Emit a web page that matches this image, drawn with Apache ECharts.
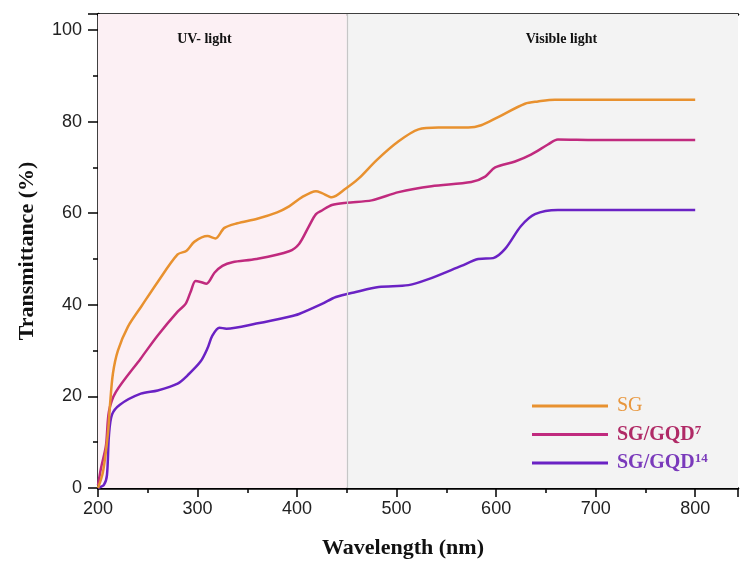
<!DOCTYPE html>
<html>
<head>
<meta charset="utf-8">
<script src="https://cdn.jsdelivr.net/npm/echarts@6/dist/echarts.min.js"></script>
<style>html,body{margin:0;padding:0;background:#fff}#c{width:741px;height:564px}</style>
</head>
<body>
<div id="c"></div>
<script>
// Wavelength (nm) / transmittance (%) pairs
const sgX = [200,205,210,212,215,220,230,244,260,280,289,297,310,318,327,340,360,380,392,405,419,425,435,449,462,480,502,522,542,572,585,602,629,642,659,700,750,800];
const sgY = [0,3.5,12,18,25,30,35.2,39.8,45,51,51.8,53.8,55,54.5,56.8,57.8,58.8,60.2,61.5,63.5,64.8,64.4,63.5,65.4,67.6,71.6,75.7,78.3,78.7,78.7,79.2,81,83.9,84.4,84.8,84.8,84.8,84.8];

const gqd7X = [200,203,208,211,218,243,260,280,288,293,298,303,309,317,325,335,359,392,402,412,419,425,435,450,475,502,535,575,589,599,619,635,652,662,700,800];
const gqd7Y = [0.6,4.3,9.3,16.7,21,28.3,33.3,38.5,40.2,42.8,45.2,45,44.6,47,48.5,49.3,50,51.7,53.3,57.2,59.8,60.6,61.8,62.3,62.8,64.6,65.9,66.8,68,70,71.3,72.8,75,76.1,76,76];

const gqd14X = [200,206,209,211,214,222,243,260,280,290,303,310,315,322,329,359,392,402,425,439,459,482,512,532,565,582,597,609,625,639,662,700,800];
const gqd14Y = [0,0.7,2.8,11.5,16,18.2,20.6,21.3,22.8,24.6,27.6,30.5,33.3,35,34.8,35.9,37.4,38,40.2,41.7,42.8,43.9,44.3,45.6,48.5,50,50.2,52.2,57.2,59.8,60.7,60.7,60.7];

const seriesNames = ['SG', 'SG/GQD7', 'SG/GQD14'];
const regionLabels = ['UV- light', 'Visible light'];
const regionBounds = [200, 450, 843];

function pairs(xs, ys) { return xs.map((x, i) => [x, ys[i]]); }

const chart = echarts.init(document.getElementById('c'), null, {renderer: 'canvas'});
const serif = '"Liberation Serif", "DejaVu Serif", serif';
const sans = '"Liberation Sans", Arial, sans-serif';

const colors = ['#e8912f', '#c02a7e', '#6a22c4'];

chart.setOption({
  animation: false,
  backgroundColor: '#fff',
  grid: {left: 98, right: 0, top: 14, bottom: 74},
  xAxis: [{
    type: 'value', min: 200, max: 843, interval: 100,
    axisLine: {show: true, lineStyle: {color: '#000', width: 2.5}},
    axisTick: {show: true, length: 9, lineStyle: {color: '#000', width: 1.5}},
    minorTick: {show: true, splitNumber: 2, length: 5, lineStyle: {color: '#000', width: 1.5}},
    splitLine: {show: false},
    axisLabel: {fontFamily: sans, fontSize: 18, color: '#222', margin: 12,
      formatter: v => (v <= 800 ? String(v) : '')},
    name: 'Wavelength (nm)', nameLocation: 'middle', nameGap: 49,
    nameTextStyle: {fontFamily: serif, fontWeight: 'bold', fontSize: 22, color: '#111', padding: [0, 30, 0, 0]}
  }, {
    type: 'value', position: 'top', min: 200, max: 843,
    axisLine: {show: true, onZero: false, lineStyle: {color: '#000', width: 2.5}},
    axisTick: {show: false}, axisLabel: {show: false}, splitLine: {show: false}
  }],
  yAxis: {
    type: 'value', min: 0, max: 103.5, interval: 20,
    axisLine: {show: true, lineStyle: {color: '#000', width: 2.5}},
    axisTick: {show: true, length: 10, lineStyle: {color: '#000', width: 1.5}},
    minorTick: {show: true, splitNumber: 2, length: 5, lineStyle: {color: '#000', width: 1.5}},
    splitLine: {show: false},
    axisLabel: {fontFamily: sans, fontSize: 18, color: '#222', margin: 16,
      formatter: v => (v <= 100 ? String(v) : '')},
    name: 'Transmittance (%)', nameLocation: 'middle', nameGap: 60, nameRotate: 90,
    nameTextStyle: {fontFamily: serif, fontWeight: 'bold', fontSize: 22, color: '#111'}
  },
  legend: {
    orient: 'vertical', left: 527, top: 391,
    itemWidth: 76, itemHeight: 14, itemGap: 8,
    icon: 'path://M0,6 L76,6 L76,9 L0,9 Z',
    data: seriesNames,
    formatter: function (name) {
      if (name === 'SG') return '{a|SG}';
      if (name === 'SG/GQD7') return '{b|SG/GQD}{bs|7}';
      return '{c|SG/GQD}{cs|14}';
    },
    textStyle: {
      padding: [0, 0, 0, 4],
      rich: {
        a: {fontFamily: serif, fontSize: 20, color: '#e8963c'},
        b: {fontFamily: serif, fontSize: 20, fontWeight: 'bold', color: '#b02a66'},
        bs: {fontFamily: serif, fontSize: 13, fontWeight: 'bold', color: '#b02a66', verticalAlign: 'top', padding: [0, 0, 8, 0]},
        c: {fontFamily: serif, fontSize: 20, fontWeight: 'bold', color: '#7a3abb'},
        cs: {fontFamily: serif, fontSize: 13, fontWeight: 'bold', color: '#7a3abb', verticalAlign: 'top', padding: [0, 0, 8, 0]}
      }
    }
  },
  series: [
    {
      name: 'SG', type: 'line', data: pairs(sgX, sgY), symbol: 'none', smooth: 0.3,
      lineStyle: {color: colors[0], width: 2.5}, itemStyle: {color: colors[0]}, z: 5,
      markArea: {
        silent: true,
        data: [
          [{xAxis: regionBounds[0], itemStyle: {color: '#fcf0f4'},
            label: {show: true, position: 'insideTop', formatter: regionLabels[0], offset: [-18, 13],
              fontFamily: serif, fontWeight: 'bold', fontSize: 14, color: '#111'}},
           {xAxis: regionBounds[1]}],
          [{xAxis: regionBounds[1], itemStyle: {color: '#f3f3f3'},
            label: {show: true, position: 'insideTop', formatter: regionLabels[1], offset: [19, 13],
              fontFamily: serif, fontWeight: 'bold', fontSize: 14, color: '#111'}},
           {xAxis: regionBounds[2]}]
        ]
      },
      markLine: {
        silent: true, symbol: 'none', label: {show: false},
        lineStyle: {color: '#c6c6c6', width: 1.2, type: 'solid'},
        data: [{xAxis: regionBounds[1]}]
      }
    },
    {
      name: 'SG/GQD7', type: 'line', data: pairs(gqd7X, gqd7Y), symbol: 'none', smooth: 0.3,
      lineStyle: {color: colors[1], width: 2.5}, itemStyle: {color: colors[1]}, z: 4
    },
    {
      name: 'SG/GQD14', type: 'line', data: pairs(gqd14X, gqd14Y), symbol: 'none', smooth: 0.3,
      lineStyle: {color: colors[2], width: 2.5}, itemStyle: {color: colors[2]}, z: 3
    }
  ]
});
</script>
</body>
</html>
